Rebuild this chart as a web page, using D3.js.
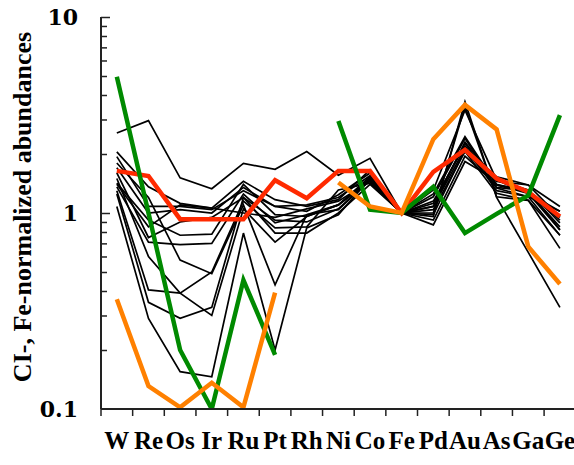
<!DOCTYPE html>
<html><head><meta charset="utf-8">
<script src="https://cdn.jsdelivr.net/npm/d3@7/dist/d3.min.js"></script>
<style>html,body{margin:0;padding:0;background:#fff;}svg{display:block;}</style>
</head><body>
<svg id="chart" width="574" height="465"></svg>
<script>
const categories = ["W","Re","Os","Ir","Ru","Pt","Rh","Ni","Co","Fe","Pd","Au","As","Ga","Ge"];
const yTicks = [0.1, 1, 10];
const yTickLabels = ["0.1", "1", "10"];
const yTitle = "CI-, Fe-normalized abundances";

const black1  = [2.56, 2.96, 1.51, 1.33, 1.79, 1.67, 2.06, 1.56, 1.90, 1, 1.08, 2.14, 1.53, 1.39, 1.08];
const black2  = [2.05, 1.36, 1.12, 1.06, 1.45, 1.17, 1.08, 1.17, 1.66, 1, 0.96, 3.70, 1.20, 0.63, 0.33];
const black3  = [1.94, 1.08, 1.08, 1.04, 1.30, 1.08, 1.02, 1.24, 1.60, 1, 1.31, 3.35, 1.47, 1.31, 0.89];
const black4  = [1.42, 0.92, 0.77, 0.78, 1.40, 0.98, 0.96, 1.10, 1.53, 1, 1.21, 2.40, 1.39, 1.26, 0.82];
const black5  = [1.36, 0.71, 0.69, 0.70, 1.25, 0.89, 0.98, 1.04, 1.47, 1, 1.12, 2.27, 1.34, 1.21, 0.77];
const black6  = [1.30, 0.405, 0.39, 0.50, 1.15, 0.84, 0.85, 1.31, 1.42, 1, 1.04, 2.06, 1.26, 1.16, 0.66];
const black7  = [1.08, 0.29, 0.155, 0.146, 0.79, 0.20, 0.84, 0.98, 1.50, 1, 0.87, 1.83, 1.47, 1.26, 1.02];
const black8  = [1.80, 1.20, 0.575, 0.49, 1.10, 0.43, 0.98, 1.10, 1.45, 1, 1.15, 2.20, 1.30, 1.21, 1.02];
const black9  = [1.25, 0.35, 0.29, 0.33, 1.20, 0.79, 0.79, 1.00, 1.40, 1, 0.92, 1.95, 1.39, 1.31, 0.82];
const black10 = [1.50, 0.60, 0.39, 0.30, 1.05, 0.71, 0.96, 1.10, 1.50, 1, 1.00, 3.50, 1.21, 1.16, 0.77];
const black11 = [1.70, 1.00, 1.04, 1.00, 1.35, 1.08, 1.10, 1.20, 1.55, 1, 1.08, 2.30, 1.45, 1.39, 0.95];
const black12 = [1.40, 0.85, 1.10, 1.06, 1.00, 0.95, 1.05, 1.15, 1.45, 1, 0.98, 2.10, 1.35, 1.30, 0.92];
const black13 = [1.60, 0.75, 0.90, 0.95, 1.20, 0.92, 0.90, 1.05, 1.48, 1, 1.25, 2.45, 1.40, 1.28, 0.85];

const redSeries    = [1.64, 1.545, 0.93, 0.93, 0.93, 1.47, 1.19, 1.64, 1.64, 1, 1.62, 2.10, 1.50, 1.28, 0.96];
const greenSeries  = [4.96, 1.0, 0.20, 0.10, 0.455, 0.189, null, 2.95, 1.04, 1, 1.36, 0.79, 0.99, 1.23, 3.16];
const orangeSeries = [0.363, 0.131, 0.102, 0.136, 0.102, 0.392, null, 1.43, 1.08, 1, 2.38, 3.56, 2.67, 0.673, 0.434];

const blackSeries = [black1, black2, black3, black4, black5, black6, black7, black8, black9, black10, black11, black12, black13];

const svg = d3.select("#chart");
const plotL = 101, plotR = 101 + 15 * 31.65, plotT = 17, plotB = 409;

const x = d3.scaleBand().domain(categories).range([plotL, plotR]).padding(0);
const y = d3.scaleLog().domain([0.1, 10]).range([plotB, plotT]);

svg.append("defs").append("clipPath").attr("id", "clip")
  .append("rect").attr("x", plotL).attr("y", plotT - 2).attr("width", plotR - plotL).attr("height", plotB - plotT + 2);

const line = d3.line()
  .defined(d => d != null)
  .x((d, i) => x(categories[i]) + x.bandwidth() / 2)
  .y(d => y(d));

const g = svg.append("g").attr("clip-path", "url(#clip)");

blackSeries.forEach(s => {
  g.append("path").datum(s).attr("d", line)
    .attr("fill", "none").attr("stroke", "#000").attr("stroke-width", 1.7)
    .attr("stroke-linejoin", "miter");
});
[[redSeries, "#ff2a00"], [greenSeries, "#008a00"], [orangeSeries, "#ff8000"]].forEach(([s, c]) => {
  g.append("path").datum(s).attr("d", line)
    .attr("fill", "none").attr("stroke", c).attr("stroke-width", 4.5)
    .attr("stroke-linejoin", "miter");
});

// Y axis (ticks inside)
const yAxis = d3.axisRight(y)
  .tickValues([0.2,0.3,0.4,0.5,0.6,0.7,0.8,0.9,2,3,4,5,6,7,8,9])
  .tickSize(6).tickFormat("");
const ya = svg.append("g").attr("transform", `translate(${plotL},0)`).call(yAxis);
ya.select(".domain").remove();
ya.selectAll("line").attr("stroke", "#222").attr("stroke-width", 1.5);
const yMajor = d3.axisRight(y).tickValues([1, 10]).tickSize(9).tickFormat("");
const ym = svg.append("g").attr("transform", `translate(${plotL},0)`).call(yMajor);
ym.select(".domain").remove();
ym.selectAll("line").attr("stroke", "#222").attr("stroke-width", 1.5);
svg.append("line").attr("x1", plotL).attr("x2", plotL).attr("y1", y(10)).attr("y2", y(0.1))
  .attr("stroke", "#222").attr("stroke-width", 2);

// Y tick labels
svg.append("g").selectAll("text").data(yTicks).join("text")
  .attr("x", 78).attr("y", d => y(d))
  .attr("dy", "0.36em")
  .attr("text-anchor", "end")
  .attr("font-family", "'DejaVu Serif', serif")
  .attr("font-weight", "bold").attr("font-size", 22)
  .text((d, i) => yTickLabels[i]);

// X axis
svg.append("line").attr("x1", plotL).attr("x2", 574).attr("y1", plotB).attr("y2", plotB)
  .attr("stroke", "#222").attr("stroke-width", 2);
const boundaries = categories.map(c => x(c));
svg.append("g").selectAll("line").data(boundaries).join("line")
  .attr("x1", d => d).attr("x2", d => d).attr("y1", plotB).attr("y2", plotB + 7)
  .attr("stroke", "#222").attr("stroke-width", 1.5);

svg.append("g").selectAll("text").data(categories).join("text")
  .attr("x", d => x(d) + x.bandwidth() / 2).attr("y", 449)
  .attr("text-anchor", "middle")
  .attr("font-family", "'Liberation Serif', serif")
  .attr("font-weight", "bold").attr("font-size", 25)
  .text(d => d);

// Y title
svg.append("text")
  .attr("transform", "translate(31,207) rotate(-90)")
  .attr("text-anchor", "middle")
  .attr("font-family", "'Liberation Serif', serif")
  .attr("font-weight", "bold").attr("font-size", 26)
  .text(yTitle);
</script>
</body></html>
